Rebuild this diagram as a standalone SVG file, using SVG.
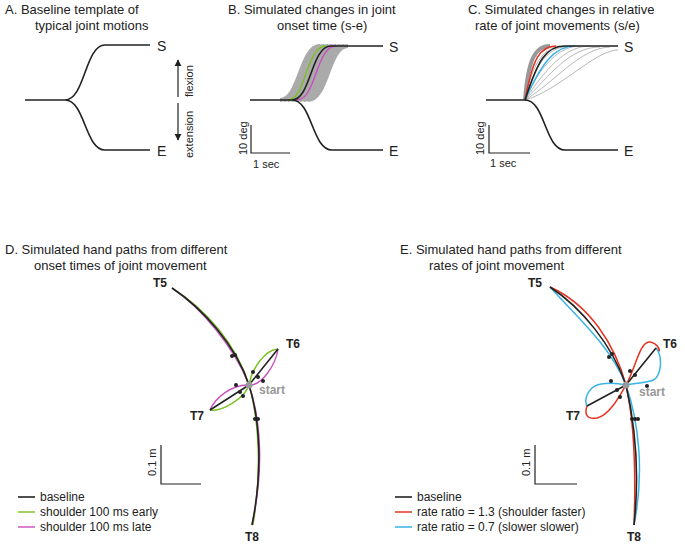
<svg xmlns="http://www.w3.org/2000/svg" width="685" height="547" viewBox="0 0 685 547">
<style>
text{font-family:"Liberation Sans",Arial,sans-serif;font-size:13px;fill:#222}
.b{font-weight:bold;font-size:12px}
.k{fill:none;stroke:#222;stroke-width:1.6}
.g{fill:none;stroke:#999;stroke-width:0.7}
.gr{fill:none;stroke:#78c11e;stroke-width:1.4}
.mg{fill:none;stroke:#c84fbf;stroke-width:1.4}
.rd{fill:none;stroke:#e8301e;stroke-width:1.5}
.bl{fill:none;stroke:#3ab3e6;stroke-width:1.5}
.ax{fill:none;stroke:#222;stroke-width:1.2}
.d{fill:#222}
</style>
<defs><marker id="ah" viewBox="0 0 10 10" refX="9" refY="5" markerWidth="6" markerHeight="6" orient="auto"><path d="M0,0L10,5L0,10z" fill="#222"/></marker></defs>
<g id="titles">
<text x="5" y="14">A.   Baseline template of</text><text x="35" y="30">typical joint motions</text>
<text x="228" y="14">B.   Simulated changes in joint</text><text x="277" y="30">onset time (s-e)</text>
<text x="468" y="14">C. Simulated changes in relative</text><text x="475" y="30">rate of joint movements (s/e)</text>
<text x="5" y="254">D.  Simulated hand paths from different</text><text x="34" y="270">onset times of joint movement</text>
<text x="400" y="254">E.   Simulated hand paths from different</text><text x="429" y="270">rates of joint movement</text>
</g>
<g id="panelA">
<path class="k" d="M25,100H65C85,100 85,45 105,45H150M65,100C85,100 85,150 105,150H150"/>
<text x="157" y="51" style="font-size:14px">S</text><text x="157" y="156" style="font-size:14px">E</text>
<line class="ax" x1="178" y1="97" x2="178" y2="60" marker-end="url(#ah)"/>
<line class="ax" x1="178" y1="103" x2="178" y2="140" marker-end="url(#ah)"/>
<text transform="translate(193,97) rotate(-90)" style="font-size:11px">flexion</text>
<text transform="translate(193,158) rotate(-90)" style="font-size:11px">extension</text>
</g>
<g id="panelB">
<path class="g" d="M280,100C300,100 300,46 320,46M284,100C304,100 304,46 324,46M288,100C308,100 308,46 328,46M292,100C312,100 312,46 332,46M296,100C316,100 316,46 336,46M300,100C320,100 320,46 340,46M304,100C324,100 324,46 344,46M308,100C328,100 328,46 348,46" style="stroke-width:4;stroke:#aaa"/>
<path class="gr" d="M288,100C306,100 306,46 326,46"/>
<path class="mg" d="M297,100C316,100 316,46 336,46"/>
<path class="k" d="M250,100H292C311,100 311,46 331,46H383M292,100C312,100 312,150 332,150H383"/>
<text x="389" y="52" style="font-size:14px">S</text><text x="389" y="156" style="font-size:14px">E</text>
<path class="ax" d="M251,125V153H290"/>
<text transform="translate(247,155) rotate(-90)" style="font-size:11px">10 deg</text>
<text x="253" y="168" style="font-size:11px">1 sec</text>
</g>
<g id="panelC">
<path class="g" d="M525,100C530,60 540,46 560,46M525,100C533,60 545,46 565,46M525,100C536,60 550,46 572,46M525,100C540,65 560,46 580,46M525,100C545,70 565,46 590,46M525,100C550,75 570,47 600,47M525,100C555,82 580,48 610,47M525,100C560,90 595,50 618,50" style="stroke:#999"/>
<path d="M525,100C528,60 535,46 550,46" style="fill:none;stroke:#999;stroke-width:4"/>
<path class="rd" d="M525,100C533,58 540,46 556,46"/>
<path class="bl" d="M525,100C542,62 555,46 575,46"/>
<path class="k" d="M486,100H525C538,60 546,46 565,46H618M525,100C545,100 545,150 565,150H618"/>
<text x="624" y="52" style="font-size:14px">S</text><text x="624" y="156" style="font-size:14px">E</text>
<path class="ax" d="M489,125V153H530"/>
<text transform="translate(484,155) rotate(-90)" style="font-size:11px">10 deg</text>
<text x="490" y="167" style="font-size:11px">1 sec</text>
</g>
<g id="panelD">
<path class="gr" d="M172,288C206,309 237,345 249,385M249,385C259,420 262,470 253,525M249,385C252,368 265,350 278,349M249,385C245,398 222,412 210,410"/>
<path class="mg" d="M172,288C199,306 234,346 249,385M249,385C261,420 264,470 252,525M249,385C262,386 276,364 278,349M249,385C232,384 215,398 210,410"/>
<path class="k" d="M172,288C202,308 236,345 249,385C260,420 263,470 252,525M249,385L278,349M249,385L210,410"/>
<circle class="d" cx="232" cy="356" r="2"/><circle class="d" cx="235" cy="355" r="2"/>
<circle class="d" cx="255" cy="419" r="2"/><circle class="d" cx="258" cy="419" r="2"/>
<circle class="d" cx="253" cy="372" r="2"/><circle class="d" cx="258" cy="377" r="2"/><circle class="d" cx="263" cy="381" r="2"/>
<circle class="d" cx="236" cy="385" r="2"/><circle class="d" cx="240" cy="392" r="2"/><circle class="d" cx="243" cy="396" r="2"/>
<circle cx="249" cy="385" r="3.5" fill="#999"/>
<text class="b" x="153" y="287">T5</text><text class="b" x="286" y="348">T6</text><text class="b" x="190" y="420">T7</text><text class="b" x="245" y="541">T8</text>
<text x="259" y="394" style="font-weight:bold;font-size:12px;fill:#999">start</text>
<path class="ax" d="M161,445V484H201"/>
<text transform="translate(156,476) rotate(-90)" style="font-size:11px">0.1 m</text>
</g>
<g id="panelE">
<path class="rd" d="M550,287C590,305 615,345 626,385C634,420 636,470 634,525M626,385C635,370 640,340 650,342C660,344 662,356 656,348M626,385C620,395 610,415 597,418C585,420 585,412 587,406"/>
<path class="bl" d="M550,287C575,315 610,345 626,385C638,420 645,470 634,525M626,385C640,382 652,383 656,378C662,370 662,355 656,348M626,385C612,382 597,383 592,388C585,395 585,402 587,406"/>
<path class="k" d="M550,287C582,308 612,345 626,385C634,420 640,470 634,525M626,385L656,348M626,385L587,406"/>
<circle class="d" cx="609" cy="357" r="2"/><circle class="d" cx="612" cy="354" r="2"/>
<circle class="d" cx="632" cy="419" r="2"/><circle class="d" cx="635" cy="419" r="2"/><circle class="d" cx="638" cy="419" r="2"/>
<circle class="d" cx="630" cy="371" r="2"/><circle class="d" cx="635" cy="375" r="2"/><circle class="d" cx="647" cy="386" r="2"/>
<circle class="d" cx="611" cy="381" r="2"/><circle class="d" cx="617" cy="390" r="2"/><circle class="d" cx="620" cy="397" r="2"/>
<circle cx="626" cy="385" r="3.5" fill="#999"/>
<text class="b" x="528" y="287">T5</text><text class="b" x="663" y="348">T6</text><text class="b" x="566" y="420">T7</text><text class="b" x="627" y="541">T8</text>
<text x="639" y="396" style="font-weight:bold;font-size:12px;fill:#999">start</text>
<path class="ax" d="M535,445V484H577"/>
<text transform="translate(530,476) rotate(-90)" style="font-size:11px">0.1 m</text>
</g>
<g id="legends">
<line x1="18" y1="497" x2="35" y2="497" class="k"/><text x="40" y="501" style="font-size:12px">baseline</text>
<line x1="18" y1="512" x2="35" y2="512" class="gr"/><text x="40" y="516" style="font-size:12px">shoulder 100 ms early</text>
<line x1="18" y1="527" x2="35" y2="527" class="mg"/><text x="40" y="531" style="font-size:12px">shoulder 100 ms late</text>
<line x1="395" y1="497" x2="412" y2="497" class="k"/><text x="417" y="501" style="font-size:12px">baseline</text>
<line x1="395" y1="512" x2="412" y2="512" class="rd"/><text x="417" y="516" style="font-size:12px">rate ratio = 1.3 (shoulder faster)</text>
<line x1="395" y1="527" x2="412" y2="527" class="bl"/><text x="417" y="531" style="font-size:12px">rate ratio = 0.7 (slower slower)</text>
</g>
</svg>
